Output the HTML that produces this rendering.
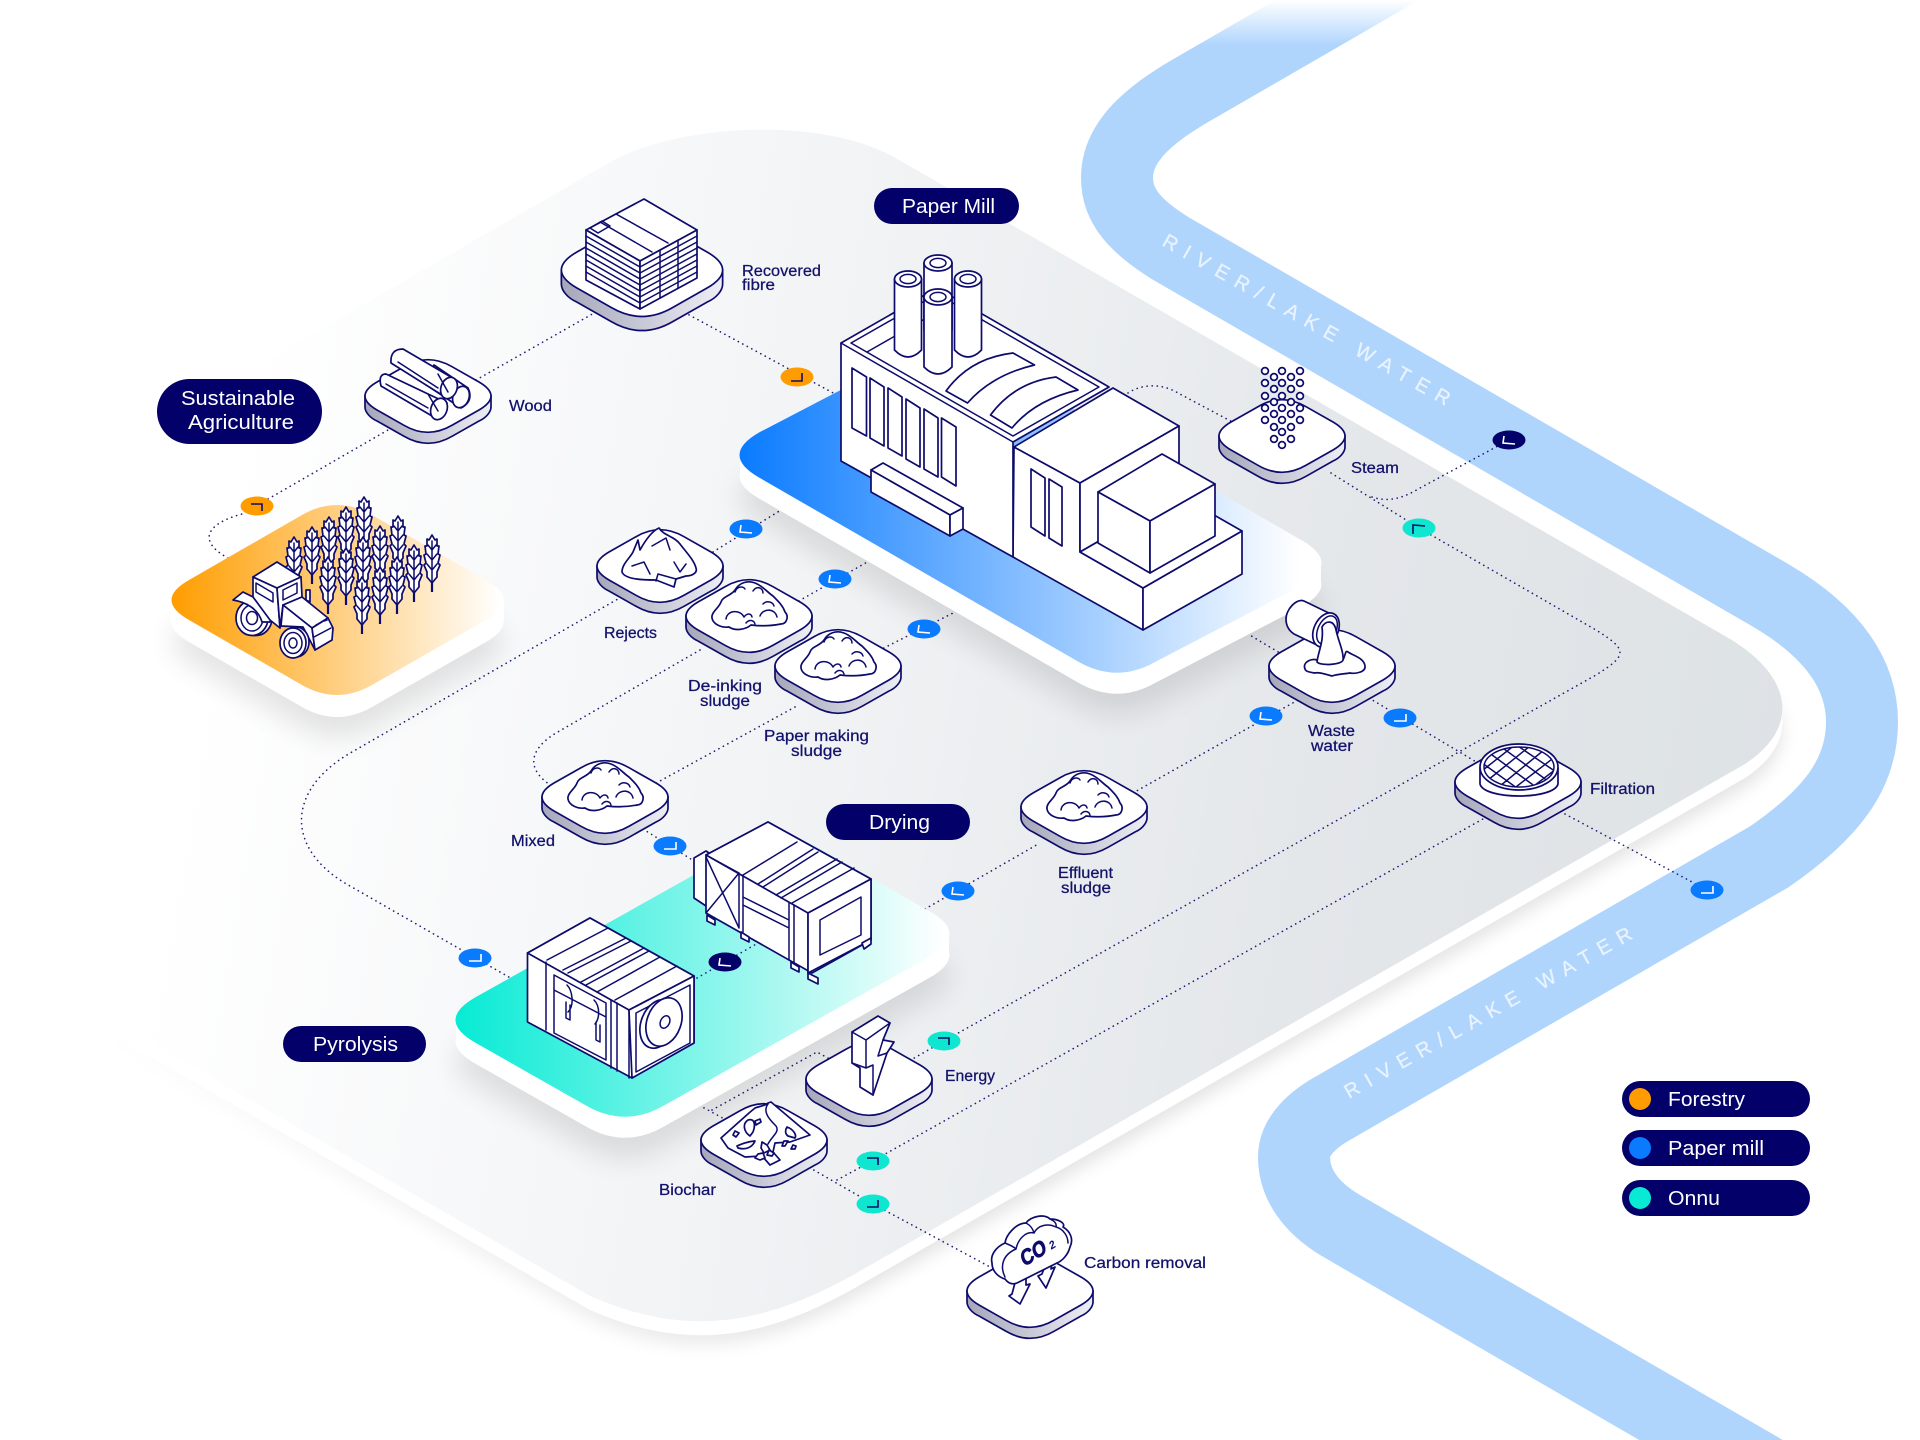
<!DOCTYPE html>
<html lang="en"><head><meta charset="utf-8"><title>Paper mill process diagram</title>
<style>
html,body{margin:0;padding:0;background:#fff}
svg{display:block}
text{font-family:"Liberation Sans",sans-serif}
.l{font-size:15.5px;fill:#13126b;stroke:#13126b;stroke-width:.25}
.p{font-size:20px;fill:#fff}
.r{font-size:20px;fill:#e9f3ff;stroke:#e9f3ff;stroke-width:.3}
.d{fill:none;stroke:#1c1a72;stroke-width:1.6;stroke-linecap:round;stroke-dasharray:.1 5}
.s{fill:#fff;stroke:#0d0b6b;stroke-width:1.7;stroke-linejoin:round;stroke-linecap:round}
.n{fill:none;stroke:#0d0b6b;stroke-width:1.5;stroke-linejoin:round;stroke-linecap:round}
.w{fill:none;stroke:#fff;stroke-width:1.6}
.k{fill:none;stroke:#0d0b6b;stroke-width:1.6}
</style></head><body>
<svg xmlns="http://www.w3.org/2000/svg" width="1920" height="1440" viewBox="0 0 1920 1440">
<defs>
<linearGradient id="rv" gradientUnits="userSpaceOnUse" x1="0" y1="0" x2="0" y2="45"><stop offset="0" stop-color="#b0d5fd" stop-opacity="0"/><stop offset="1" stop-color="#b0d5fd"/></linearGradient>
<linearGradient id="pl" gradientUnits="userSpaceOnUse" x1="190" y1="720" x2="1766" y2="992"><stop offset="0" stop-color="#fff"/><stop offset=".4" stop-color="#f0f2f4"/><stop offset=".7" stop-color="#e4e7ea"/><stop offset="1" stop-color="#dde2e5"/></linearGradient>
<linearGradient id="sh" gradientUnits="userSpaceOnUse" x1="160" y1="800" x2="960" y2="1029"><stop offset="0" stop-color="#000" stop-opacity="0"/><stop offset="1" stop-color="#000" stop-opacity=".1"/></linearGradient>
<linearGradient id="og" gradientUnits="userSpaceOnUse" x1="172" y1="0" x2="500" y2="0"><stop offset="0" stop-color="#ff9d00"/><stop offset="1" stop-color="#ff9d00" stop-opacity="0"/></linearGradient>
<linearGradient id="bg" gradientUnits="userSpaceOnUse" x1="740" y1="0" x2="1300" y2="0"><stop offset="0" stop-color="#0a7bff"/><stop offset="1" stop-color="#0a7bff" stop-opacity="0"/></linearGradient>
<linearGradient id="tg" gradientUnits="userSpaceOnUse" x1="456" y1="0" x2="945" y2="0"><stop offset="0" stop-color="#07ebd5"/><stop offset="1" stop-color="#07ebd5" stop-opacity="0"/></linearGradient>
<linearGradient id="side" x1="0" y1="0" x2="1" y2="0"><stop offset="0" stop-color="#a6a7ba"/><stop offset=".5" stop-color="#c8c9d6"/><stop offset="1" stop-color="#eeeef5"/></linearGradient>
<filter id="b1" x="-20%" y="-20%" width="140%" height="140%"><feGaussianBlur stdDeviation="8"/></filter>
<filter id="b2" x="-30%" y="-30%" width="160%" height="160%"><feGaussianBlur stdDeviation="14"/></filter>
<clipPath id="sieve"><ellipse cx="1" cy="-15" rx="35" ry="20"/></clipPath>
<g id="t">
<path d="M-63,0 L-63,11 C-63,16 -58,22 -51,25 L-24,40.3 Q0,54.3 24,40.3 L51,25 C58,22 63,16 63,11 L63,0Z" fill="url(#side)" stroke="#0d0b6b" stroke-width="1.7" vector-effect="non-scaling-stroke"/>
<path d="M-51,-14 L-24,-29.3 Q0,-43.3 24,-29.3 L51,-14 Q75,0 51,14 L24,29.3 Q0,43.3 -24,29.3 L-51,14 Q-75,0 -51,-14Z" fill="#fff" stroke="#0d0b6b" stroke-width="1.7" vector-effect="non-scaling-stroke"/>
</g>
<g id="pile">
<path class="s" d="M-37,2 C-38,-4 -30,-8 -28,-14 C-26,-20 -18,-20 -14,-26 C-10,-33 -2,-36 6,-33 C14,-30 18,-24 24,-20 C30,-14 34,-10 36,-4 C40,0 38,8 32,8 C22,10 10,10 2,9 C-4,14 -14,15 -20,11 C-28,12 -36,8 -37,2Z"/>
<path class="n" d="M-23,3 C-22,-6 -9,-7 -5,1 M-5,1 C-2,-3 2,-3 3,1 M-3,7 C0,3 5,4 6,8 M11,0 C14,-8 26,-8 28,1 M-14,-24 C-12,-30 -6,-30 -4,-27 M4,-25 C8,-31 14,-28 14,-23 M14,-12 C18,-16 24,-14 25,-10"/>
</g>
<g id="wheat">
<path d="M0,46 L0,57" fill="none" stroke="#0d0b6b" stroke-width="2.2"/>
<path class="s" d="M0,0 L3,5 L5,4 L5,11 L7,11 L6,19 L8,20 L6,28 L8,30 L5,37 L5,42 L0,48 L-5,42 L-5,37 L-8,30 L-6,28 L-8,20 L-6,19 L-7,11 L-5,11 L-5,4 L-3,5Z"/>
<path class="n" d="M0,6 L0,46 M-4,10 L0,15 L4,10 M-5,19 L0,25 L5,19 M-5,29 L0,35 L5,29"/>
</g>
<ellipse id="bd" rx="16.5" ry="9.5"/>
</defs>

<!-- river -->
<path d="M1420,-42 L1190,91 C1135,123 1117,150 1117,178 C1117,206 1135,226 1170,248 L1770,595 C1835,633 1862,676 1862,722 C1862,775 1830,815 1769,857 L1335,1107 C1315,1118 1294,1135 1294,1157 C1294,1185 1312,1208 1340,1225 L1780,1480" fill="none" stroke="url(#rv)" stroke-width="72"/>
<text class="r" transform="translate(1161,245) rotate(29.5)" textLength="327" lengthAdjust="spacing">RIVER/LAKE WATER</text>
<text class="r" transform="translate(1349,1099) rotate(-29.5)" textLength="327" lengthAdjust="spacing">RIVER/LAKE WATER</text>

<!-- big ground plate -->
<path transform="translate(0,24)" d="M612,161 C680,124 820,116 894,157 L1725,636 C1795,676 1800,728 1745,764 L860,1271 C770,1323 690,1340 590,1296 L0,956 L0,514Z" fill="url(#sh)" filter="url(#b1)"/>
<path transform="translate(0,14)" d="M612,161 C680,124 820,116 894,157 L1725,636 C1795,676 1800,728 1745,764 L860,1271 C770,1323 690,1340 590,1296 L0,956 L0,514Z" fill="#fff"/>
<path transform="translate(0,7)" d="M612,161 C680,124 820,116 894,157 L1725,636 C1795,676 1800,728 1745,764 L860,1271 C770,1323 690,1340 590,1296 L0,956 L0,514Z" fill="#fff"/>
<path d="M612,161 C680,124 820,116 894,157 L1725,636 C1795,676 1800,728 1745,764 L860,1271 C770,1323 690,1340 590,1296 L0,956 L0,514Z" fill="url(#pl)"/>

<!-- connectors -->
<path class="d" d="M228,558 C200,543 202,525 242,514 L388,430"/>
<path class="d" d="M476,380 L610,304"/>
<path class="d" d="M680,310 L837,395"/>
<path class="d" d="M700,560 L781,510"/>
<path class="d" d="M630,592 L352,752 C285,790 285,850 350,886 L514,980"/>
<path class="d" d="M790,606 L869,561"/>
<path class="d" d="M700,650 L556,733 C525,752 525,775 565,793"/>
<path class="d" d="M870,655 L961,609"/>
<path class="d" d="M795,707 L649,787"/>
<path class="d" d="M643,829 L694,861"/>
<path class="d" d="M925,909 L1040,843"/>
<path class="d" d="M1133,793 L1298,700"/>
<path class="d" d="M1243,631 L1300,665"/>
<path class="d" d="M1369,698 L1488,769"/>
<path class="d" d="M1565,814 L1707,890"/>
<path class="d" d="M1128,393 C1145,382 1165,385 1178,393 L1240,426"/>
<path class="d" d="M1331,473 L1419,528 L1596,630 C1628,650 1628,655 1596,675 L944,1041 L902,1065"/>
<path class="d" d="M1372,497 C1390,503 1405,497 1420,488 L1509,440"/>
<path class="d" d="M712,1110 L817,1052 L835,1062"/>
<path class="d" d="M695,1103 L730,1122"/>
<path class="d" d="M837,1180 L887,1153 L1490,815"/>
<path class="d" d="M805,1165 L873,1204 L992,1268"/>

<!-- orange plate -->
<path transform="translate(0,42)" d="M189,580 L302,515 Q337,495 372,515 L486,580 Q521,600 486,620 L372,685 Q337,705 302,685 L189,620 Q154,600 189,580Z" fill="#000" opacity=".1" filter="url(#b2)"/>
<path transform="translate(0,22)" d="M189,580 L302,515 Q337,495 372,515 L486,580 Q521,600 486,620 L372,685 Q337,705 302,685 L189,620 Q154,600 189,580Z" fill="#fff"/>
<polygon points="171,600 171,622 504,622 504,600" fill="#fff"/>
<path d="M189,580 L302,515 Q337,495 372,515 L486,580 Q521,600 486,620 L372,685 Q337,705 302,685 L189,620 Q154,600 189,580Z" fill="#fff"/>
<path d="M189,580 L302,515 Q337,495 372,515 L486,580 Q521,600 486,620 L372,685 Q337,705 302,685 L189,620 Q154,600 189,580Z" fill="url(#og)"/>

<!-- wheat -->
<use href="#wheat" x="294" y="537"/><use href="#wheat" x="312" y="527"/><use href="#wheat" x="329" y="517"/><use href="#wheat" x="346" y="507"/><use href="#wheat" x="364" y="497"/><use href="#wheat" x="380" y="526"/><use href="#wheat" x="398" y="516"/><use href="#wheat" x="414" y="545"/><use href="#wheat" x="432" y="535"/><use href="#wheat" x="363" y="537"/><use href="#wheat" x="328" y="557"/><use href="#wheat" x="346" y="548"/><use href="#wheat" x="380" y="567"/><use href="#wheat" x="397" y="557"/><use href="#wheat" x="362" y="577"/>

<!-- tractor -->
<g>
<ellipse class="s" cx="256" cy="618" rx="16" ry="17.5"/>
<ellipse class="s" cx="252" cy="618" rx="16" ry="17.5"/><ellipse class="n" cx="252" cy="618" rx="11" ry="13"/><ellipse class="n" cx="252" cy="618" rx="5.5" ry="6.5"/>
<path class="s" d="M233,600 L243,592 L253,597 L272,613 L270,622 L262,622 C258,608 245,602 233,600Z"/>
<path class="s" d="M253,577 L277,588 L280,628 L270,620 L253,597Z"/>
<path class="s" d="M253,577 L277,562 L301,577 L277,588Z"/>
<path class="s" d="M277,588 L301,577 L302,597 L283,605 L280,628Z"/>
<path class="n" d="M256,583 L273,593 L273,602 L256,592Z M283,590 L297,583 L297,593 L283,600Z"/>
<path class="s" d="M306,590 L306,600 L310,602 L310,590Z"/>
<path class="s" d="M283,605 L302,597 L328,618 L312,628Z"/>
<path class="s" d="M283,605 L312,628 L315,650 L303,627 L281,626Z"/>
<path class="s" d="M312,628 L328,618 L333,628 L332,640 L315,650Z"/>
<path class="n" d="M314,637 L331,628 M316,625 L320,623 M324,621 L327,620"/>
<ellipse class="s" cx="296" cy="642" rx="13" ry="15"/>
<ellipse class="s" cx="293" cy="643" rx="13" ry="15"/><ellipse class="n" cx="293" cy="643" rx="9" ry="10.5"/><ellipse class="n" cx="293" cy="643" rx="4" ry="5"/>
</g>

<!-- blue plate -->
<path transform="translate(0,42)" d="M759,432.5 L905,356.5 Q944,334 983,356.5 L1302,540.5 Q1341,563 1302,585.5 L1156,661.5 Q1117,684 1078,661.5 L759,477.5 Q720,455 759,432.5Z" fill="#000" opacity=".1" filter="url(#b2)"/>
<path transform="translate(0,21)" d="M759,432.5 L905,356.5 Q944,334 983,356.5 L1302,540.5 Q1341,563 1302,585.5 L1156,661.5 Q1117,684 1078,661.5 L759,477.5 Q720,455 759,432.5Z" fill="#fff"/>
<polygon points="740,455 740,476 1321,584 1321,563" fill="#fff"/>
<path d="M759,432.5 L905,356.5 Q944,334 983,356.5 L1302,540.5 Q1341,563 1302,585.5 L1156,661.5 Q1117,684 1078,661.5 L759,477.5 Q720,455 759,432.5Z" fill="#fff"/>
<path d="M759,432.5 L905,356.5 Q944,334 983,356.5 L1302,540.5 Q1341,563 1302,585.5 L1156,661.5 Q1117,684 1078,661.5 L759,477.5 Q720,455 759,432.5Z" fill="url(#bg)"/>

<!-- factory -->
<g>
<path class="s" d="M1014,447 L1080,483 L1080,552 L1143,588 L1143,630 L1013,557Z"/>
<path class="s" d="M1014,447 L1113,388 L1179,426 L1080,483Z"/>
<path class="s" d="M1080,483 L1179,426 L1179,495 L1080,552Z"/>
<path class="s" d="M1031,469 L1045,478 L1045,536 L1031,527Z M1049,479 L1062,487 L1062,546 L1049,538Z"/>
<path class="s" d="M1143,588 L1242,531 L1242,574 L1143,630Z"/>
<path class="s" d="M1080,552 L1143,588 L1242,531 L1179,495Z"/>
<path class="s" d="M1098,492 L1162,454 L1215,484 L1150,521Z"/>
<path class="s" d="M1098,492 L1150,521 L1150,573 L1098,543Z"/>
<path class="s" d="M1150,521 L1215,484 L1215,536 L1150,573Z"/>
<path class="s" d="M841,343 L937,288 L1109,387 L1013,442 L1013,557 L841,461Z"/>
<path class="n" d="M841,343 L1013,442"/>
<path class="n" d="M851,343 L937,294 L1099,387 L1013,436Z"/>
<path class="n" d="M867,352 L937,312"/>
<path class="s" d="M852,368 L866.5,377 L866.5,436 L852,428Z M870,378 L884,387 L884,446 L870,438Z M888,388 L902,397 L902,456 L888,448Z M906,399 L920,408 L920,467 L906,459Z M924,409 L938,418 L938,477 L924,469Z M941.5,418 L956,427 L956,486 L941.5,477Z"/>
<path class="s" d="M871,470 L883,463 L963,508 L950,515Z"/>
<path class="s" d="M871,470 L950,515 L950,536 L871,492Z"/>
<path class="s" d="M950,515 L963,508 L963,529 L950,536Z"/>
<path class="s" d="M946,391 L967.5,403 Q992,375 1034.5,365 L1013,353 Q970,358 946,391Z"/>
<path class="s" d="M990.5,415 L1012,428 Q1035,400 1078,390 L1056,377 Q1015,382 990.5,415Z"/>
<path class="s" d="M924,263 L924,330 L952,330 L952,263Z"/><ellipse class="s" cx="938" cy="263" rx="14" ry="8"/><ellipse class="n" cx="938" cy="263" rx="8" ry="4.6"/>
<path class="s" d="M894.5,279 L894.5,350 Q908,364 921.5,350 L921.5,279Z"/><ellipse class="s" cx="908" cy="279" rx="13.5" ry="8"/><ellipse class="n" cx="908" cy="279" rx="8" ry="4.6"/>
<path class="s" d="M954.5,279 L954.5,350 Q968,364 981.5,350 L981.5,279Z"/><ellipse class="s" cx="968" cy="279" rx="13.5" ry="8"/><ellipse class="n" cx="968" cy="279" rx="8" ry="4.6"/>
<path class="s" d="M924,297 L924,367 Q938,381 952,367 L952,297Z"/><ellipse class="s" cx="938" cy="297" rx="14" ry="8"/><ellipse class="n" cx="938" cy="297" rx="8" ry="4.6"/>
</g>

<!-- teal plate -->
<path transform="translate(0,42)" d="M475,997.5 L741,848.5 Q780,826 819,848.5 L930,911.5 Q969,934 930,956.5 L664,1105.5 Q625,1128 586,1105.5 L475,1042.5 Q436,1020 475,997.5Z" fill="#000" opacity=".1" filter="url(#b2)"/>
<path transform="translate(0,21)" d="M475,997.5 L741,848.5 Q780,826 819,848.5 L930,911.5 Q969,934 930,956.5 L664,1105.5 Q625,1128 586,1105.5 L475,1042.5 Q436,1020 475,997.5Z" fill="#fff"/>
<polygon points="456,1020 456,1041 949,955 949,934" fill="#fff"/>
<path d="M475,997.5 L741,848.5 Q780,826 819,848.5 L930,911.5 Q969,934 930,956.5 L664,1105.5 Q625,1128 586,1105.5 L475,1042.5 Q436,1020 475,997.5Z" fill="#fff"/>
<path d="M475,997.5 L741,848.5 Q780,826 819,848.5 L930,911.5 Q969,934 930,956.5 L664,1105.5 Q625,1128 586,1105.5 L475,1042.5 Q436,1020 475,997.5Z" fill="url(#tg)"/>

<path class="d" d="M697,978 L758,943"/>

<!-- dryer -->
<g>
<path class="s" d="M694,858 L706,851 L739,873 L739,928 L694,898Z"/>
<path class="s" d="M706,855 L768,822 L871,879 L871,940 L812,973 L706,913Z"/>
<path class="s" d="M706,855 L768,822 L871,879 L808,913Z"/>
<path class="n" d="M706,857 L739,928 M739,873 L706,913 M706,855 L739,873 L739,928 M743,875 L743,932 M789,903 L789,960 M794,905 L794,962 M808,913 L808,973 M743,897 L789,920 M743,905 L789,928"/>
<path class="n" d="M743,875 L797,842 M758,884 L813,849 M763,887 L818,852 M776,895 L837,859 M781,898 L842,862 M792,903 L854,868"/>
<path class="s" d="M808,913 L871,879 L871,940 L808,973Z"/>
<path class="n" d="M820,920 L861,897 L861,935 L820,955Z"/>
<path class="s" d="M707,915 L715,920 L715,925 L707,921Z M741,932 L749,937 L749,942 L741,938Z M791,962 L799,967 L799,972 L791,968Z M808,973 L818,978 L818,984 L808,979Z M862,943 L871,938 L871,944 L864,949Z"/>
</g>

<!-- pyrolysis -->
<g>
<path class="s" d="M527.5,953 L590,918 L694,976 L694,1043 L632,1078 L527.5,1022Z"/>
<path class="s" d="M527.5,953 L590,918 L694,976 L629,1010Z"/>
<path class="n" d="M546,962 L546,1030 M611,1000 L611,1068 M617,1003 L617,1071 M629,1010 L629,1078 M547,960 L608,928 M563,970 L626,938 M568,973 L631,941 M581,982 L644,948 M586,985 L649,951 M597,992 L660,957 M615,1000 L677,966"/>
<path class="n" d="M554,975 L606,1003 L606,1060 L554,1033Z M554,990 L606,1017 M567,985 C572,990 575,1005 568,1012 M594,1000 C600,1006 600,1018 595,1024 M566,1002 L566,1018 L570,1020 L570,1005 M596,1022 L596,1040 L600,1042 L600,1025"/>
<path class="s" d="M629,1010 L694,976 L694,1043 L632,1078Z"/>
<path class="n" d="M636,1013 L690,985 L690,1043 L636,1072Z"/>
<ellipse class="s" cx="658" cy="1024" rx="17" ry="25" transform="rotate(20 658 1024)"/>
<ellipse class="s" cx="664" cy="1022" rx="17" ry="25" transform="rotate(20 664 1022)"/>
<ellipse class="n" cx="665" cy="1022" rx="4.5" ry="6.5" transform="rotate(25 665 1022)"/>
</g>

<!-- tiles -->
<use href="#t" transform="translate(642,270) scale(1.28)"/>
<use href="#t" x="428" y="396"/>
<use href="#t" x="660" y="566"/>
<use href="#t" x="749" y="616"/>
<use href="#t" x="838" y="666"/>
<use href="#t" x="605" y="797"/>
<use href="#t" x="1084" y="807"/>
<use href="#t" x="1332" y="666"/>
<use href="#t" x="1518" y="782"/>
<use href="#t" x="1282" y="436"/>
<use href="#t" x="869" y="1079"/>
<use href="#t" x="764" y="1140"/>
<use href="#t" x="1030" y="1291"/>

<!-- bale stack -->
<g>
<path class="s" d="M586,230 L644,199 L697,230 L640,261Z"/>
<path class="s" d="M586,230 L640,261 L640,309 L586,280Z"/>
<path class="s" d="M640,261 L697,230 L697,278 L640,309Z"/>
<path class="n" d="M600,222 L652,252 M616,214 L668,243 M590,228 L602,221 L610,226 L598,233Z"/>
<path class="n" d="M586,236 L640,267 M586,242 L640,273 M586,248 L640,279 M586,254 L640,285 M586,260 L640,291 M586,266 L640,297 M586,272 L640,303"/>
<path class="n" d="M640,267 L697,236 M640,273 L697,242 M640,279 L697,248 M640,285 L697,254 M640,291 L697,260 M640,297 L697,266 M640,303 L697,272 M678,240 L678,288 M660,250 L660,298"/>
</g>

<!-- logs -->
<g transform="translate(428,396)">
<path class="s" d="M6,-31 L40,-8 Q46,5 33,12 L-3,-12Z"/><ellipse class="s" cx="33" cy="1" rx="8" ry="11" transform="rotate(20 33 1)"/>
<path class="s" d="M-25,-47 L28,-16 L14,-1 L-37,-33 Q-38,-47 -25,-47Z"/><ellipse class="s" cx="21" cy="-8" rx="8" ry="11" transform="rotate(20 21 -8)"/>
<path class="n" d="M-30,-34 L10,-8 M10,-22 L20,-4"/>
<path class="s" d="M-42,-22 L19,7 L4,20 L-47,-10 Q-50,-22 -42,-22Z"/><ellipse class="s" cx="11" cy="13" rx="8" ry="11" transform="rotate(20 11 13)"/>
<path class="n" d="M-42,-12 L0,12 M0,-2 L10,15"/>
</g>

<!-- piles -->
<g transform="translate(660,566)">
<path class="s" d="M-38,6 C-38,-2 -30,-8 -27,-14 L-22,-26 L-20,-16 C-15,-25 -8,-35 -1,-38 C4,-30 14,-30 20,-22 C26,-14 34,-6 36,2 C38,8 30,10 26,10 L16,13 L14,21 L-4,14 C-14,14 -35,14 -38,6Z"/>
<path class="n" d="M-8,-20 L6,-28 L10,-16 M-28,0 L-16,-4 L-10,8 M14,-4 L20,6 L26,-2 M-4,15 L-2,8 L16,13"/>
</g>
<use href="#pile" x="749" y="616"/>
<use href="#pile" x="838" y="666"/>
<use href="#pile" x="605" y="797"/>
<use href="#pile" x="1084" y="807"/>

<!-- steam dots -->
<g>
<circle class="s" cx="1265" cy="371" r="3.4"/><circle class="s" cx="1265" cy="383" r="3.4"/><circle class="s" cx="1265" cy="396" r="3.4"/><circle class="s" cx="1265" cy="408" r="3.4"/><circle class="s" cx="1265" cy="420" r="3.4"/>
<circle class="s" cx="1274" cy="377" r="3.4"/><circle class="s" cx="1274" cy="389" r="3.4"/><circle class="s" cx="1274" cy="402" r="3.4"/><circle class="s" cx="1274" cy="414" r="3.4"/><circle class="s" cx="1274" cy="427" r="3.4"/><circle class="s" cx="1274" cy="439" r="3.4"/>
<circle class="s" cx="1282" cy="371" r="3.4"/><circle class="s" cx="1282" cy="383" r="3.4"/><circle class="s" cx="1282" cy="396" r="3.4"/><circle class="s" cx="1282" cy="408" r="3.4"/><circle class="s" cx="1282" cy="420" r="3.4"/><circle class="s" cx="1282" cy="432" r="3.4"/><circle class="s" cx="1282" cy="445" r="3.4"/>
<circle class="s" cx="1291" cy="377" r="3.4"/><circle class="s" cx="1291" cy="389" r="3.4"/><circle class="s" cx="1291" cy="402" r="3.4"/><circle class="s" cx="1291" cy="414" r="3.4"/><circle class="s" cx="1291" cy="427" r="3.4"/><circle class="s" cx="1291" cy="439" r="3.4"/>
<circle class="s" cx="1300" cy="371" r="3.4"/><circle class="s" cx="1300" cy="383" r="3.4"/><circle class="s" cx="1300" cy="396" r="3.4"/><circle class="s" cx="1300" cy="408" r="3.4"/><circle class="s" cx="1300" cy="420" r="3.4"/>
</g>

<!-- waste water pipe -->
<g transform="translate(1332,666)">
<path class="s" d="M-27,3 C-30,-4 -20,-8 -15,-6 L11,-6 C14,-12 13,-16 16,-14 C22,-10 32,-8 33,0 C34,6 24,8 18,7 C12,8 6,8 0,10 C-8,8 -12,6 -18,7 C-22,6 -26,6 -27,3Z"/>
<path class="s" d="M-46,-47 C-46,-56 -36,-68 -28,-65 L3,-50 L-13,-20 L-38,-32 C-44,-36 -46,-42 -46,-47Z"/>
<ellipse class="s" cx="-6" cy="-36" rx="12" ry="18" transform="rotate(25 -6 -36)"/>
<ellipse class="n" cx="-5" cy="-36" rx="9" ry="15" transform="rotate(25 -5 -36)"/>
<path class="s" d="M-10,-39 C-6,-46 2,-46 4,-36 C6,-26 12,-14 11,-6 C10,-1 -12,0 -15,-4 C-14,-14 -8,-24 -10,-39Z"/>
</g>

<!-- sieve -->
<g transform="translate(1518,782)">
<path class="s" d="M-38,-14 L-38,2 C-34,18 36,18 40,2 L40,-14Z"/>
<ellipse class="s" cx="1" cy="-15" rx="39" ry="23"/>
<ellipse class="n" cx="1" cy="-15" rx="35" ry="20"/>
<g clip-path="url(#sieve)"><path class="n" d="M-40,-8 L-2,-38 M-30,-2 L12,-36 M-18,4 L26,-32 M-6,8 L38,-26 M8,10 L42,-16 M-40,-22 L10,14 M-30,-30 L22,8 M-18,-36 L34,2 M-6,-40 L44,-6 M8,-42 L50,-14"/></g>
</g>

<!-- bolt -->
<path class="s" d="M852,1032 L878,1016 L890,1023 L883,1040 L894,1042 L887,1053 L873,1095 L860,1087 L860,1068 L852,1063Z"/>
<path class="n" d="M852,1032 L866,1040 L890,1023 M866,1040 L866,1068 L852,1063 M866,1068 L873,1065 L873,1095 M883,1040 L878,1056 L887,1053"/>

<!-- biochar -->
<g>
<path class="s" d="M721,1138 L749,1113 L755,1108 C760,1106 765,1106 768,1103 L771,1102 C778,1108 790,1118 797,1124 L810,1135 L790,1142 L775,1143 L773,1152 L780,1160 L770,1165 L762,1156 L745,1157 L728,1148Z"/>
<path class="n" d="M768,1104 C762,1112 770,1120 776,1126 C780,1132 772,1136 768,1144"/>
<path class="s" d="M748,1120 C754,1118 756,1124 753,1132 L750,1136 C744,1132 742,1124 748,1120Z M755,1121 L760,1119 L761,1122 L756,1125Z M735,1131 L739,1133 L736,1137 L733,1135Z M787,1127 C793,1129 797,1135 795,1138 L788,1136 C785,1134 785,1130 787,1127Z M737,1146 C743,1143 752,1141 755,1141 C752,1148 745,1150 738,1148Z M762,1142 L767,1145 L770,1150 L764,1153 L761,1148Z M758,1154 L763,1153 L765,1158 L760,1160 L755,1158Z M769,1150 L774,1153 L772,1156 L767,1155Z M784,1141 L788,1141 L785,1146 L782,1146Z M793,1145 L796,1146 L795,1149 L791,1149Z"/>
</g>

<!-- cloud -->
<g transform="translate(1030,1291)">
<path class="s" d="M-14,-12 L-18,3 L-21,5 L-10,13 L0,-7 L-4,-6 L-4,-12Z"/>
<path class="s" d="M16,-28 L12,-17 L8,-15 L16,-3 L25,-24 L21,-22 L22,-28Z"/>
<path class="s" d="M-38,-28 C-40,-36 -34,-44 -25,-48 C-24,-56 -14,-68 -4,-68 C0,-74 14,-78 20,-72 C28,-72 36,-68 33,-64 C40,-60 44,-52 40,-44 C38,-36 32,-30 27,-28 L-13,-8 C-18,-6 -22,-8 -25,-12 C-32,-14 -38,-20 -38,-28Z"/>
<path class="n" d="M-25,-14 C-30,-24 -28,-36 -14,-42 C-12,-52 -4,-60 4,-58 C8,-66 18,-68 26,-64 C34,-62 38,-54 38,-48 M-25,-48 C-20,-46 -16,-44 -14,-42 M-4,-68 C0,-66 3,-62 4,-58 M20,-72 C24,-70 27,-68 26,-64"/>
<text transform="translate(-6,-24) rotate(-32) skewX(-12)" font-size="21" font-weight="bold" fill="#0d0b6b" stroke="#0d0b6b" stroke-width=".8" textLength="28" lengthAdjust="spacingAndGlyphs">CO</text>
<text transform="translate(21,-41) rotate(-32) skewX(-12)" font-size="11" font-weight="bold" fill="#0d0b6b">2</text>
</g>

<!-- badges -->
<g fill="#ff9d00"><use href="#bd" x="797" y="377"/><use href="#bd" x="257" y="506"/></g>
<g fill="#0a7bff"><use href="#bd" x="746" y="529"/><use href="#bd" x="835" y="579"/><use href="#bd" x="924" y="629"/><use href="#bd" x="1266" y="716"/><use href="#bd" x="1400" y="718"/><use href="#bd" x="670" y="846"/><use href="#bd" x="958" y="891"/><use href="#bd" x="475" y="958"/><use href="#bd" x="1707" y="890"/></g>
<g fill="#04006a"><use href="#bd" x="1509" y="440"/><use href="#bd" x="725" y="962"/></g>
<g fill="#0ee6cf"><use href="#bd" x="1419" y="528"/><use href="#bd" x="944" y="1041"/><use href="#bd" x="873" y="1161"/><use href="#bd" x="873" y="1204"/></g>
<path class="k" d="M791,381 L802,381 L802,373 M251,504 L262,504 L262,511 M1413,534 L1413,525 L1425,526"/>
<path class="k" d="M938,1038 L949,1038 L949,1045 M867,1158 L878,1158 L878,1165 M867,1207 L878,1207 L878,1200"/>
<path class="w" d="M741,525 L740,532 L752,533 M830,575 L829,582 L841,583 M919,625 L918,632 L930,633 M1261,712 L1260,719 L1272,720 M953,887 L952,894 L964,895"/>
<path class="w" d="M1394,721 L1406,721 L1406,714 M664,849 L676,849 L676,842 M469,961 L481,961 L481,954 M1701,893 L1713,893 L1713,886"/>
<path class="w" d="M1504,436 L1503,443 L1515,444 M720,958 L719,965 L731,966"/>

<!-- pills -->
<rect x="157" y="379" width="165" height="65" rx="32.5" fill="#04006a"/>
<text class="p" x="181" y="405" textLength="114" lengthAdjust="spacingAndGlyphs">Sustainable</text>
<text class="p" x="188" y="429" textLength="106" lengthAdjust="spacingAndGlyphs">Agriculture</text>
<rect x="874" y="188" width="145" height="36" rx="18" fill="#04006a"/>
<text class="p" x="902" y="213" textLength="93" lengthAdjust="spacingAndGlyphs">Paper Mill</text>
<rect x="826" y="804" width="144" height="36" rx="18" fill="#04006a"/>
<text class="p" x="869" y="829" textLength="61" lengthAdjust="spacingAndGlyphs">Drying</text>
<rect x="283" y="1026" width="143" height="36" rx="18" fill="#04006a"/>
<text class="p" x="313" y="1051" textLength="85" lengthAdjust="spacingAndGlyphs">Pyrolysis</text>

<!-- legend -->
<rect x="1622" y="1081" width="188" height="36" rx="18" fill="#04006a"/>
<circle cx="1640" cy="1099" r="11" fill="#ff9d00"/>
<text class="p" x="1668" y="1106" textLength="77" lengthAdjust="spacingAndGlyphs">Forestry</text>
<rect x="1622" y="1130" width="188" height="36" rx="18" fill="#04006a"/>
<circle cx="1640" cy="1148" r="11" fill="#0a7bff"/>
<text class="p" x="1668" y="1155" textLength="96" lengthAdjust="spacingAndGlyphs">Paper mill</text>
<rect x="1622" y="1180" width="188" height="36" rx="18" fill="#04006a"/>
<circle cx="1640" cy="1198" r="11" fill="#07ebd5"/>
<text class="p" x="1668" y="1205" textLength="52" lengthAdjust="spacingAndGlyphs">Onnu</text>

<!-- labels -->
<text class="l" x="742" y="276" textLength="79" lengthAdjust="spacingAndGlyphs">Recovered</text>
<text class="l" x="742" y="290" textLength="33" lengthAdjust="spacingAndGlyphs">fibre</text>
<text class="l" x="509" y="411" textLength="43" lengthAdjust="spacingAndGlyphs">Wood</text>
<text class="l" x="604" y="638" textLength="53" lengthAdjust="spacingAndGlyphs">Rejects</text>
<text class="l" x="688" y="691" textLength="74" lengthAdjust="spacingAndGlyphs">De-inking</text>
<text class="l" x="700" y="706" textLength="50" lengthAdjust="spacingAndGlyphs">sludge</text>
<text class="l" x="764" y="741" textLength="105" lengthAdjust="spacingAndGlyphs">Paper making</text>
<text class="l" x="791" y="756" textLength="51" lengthAdjust="spacingAndGlyphs">sludge</text>
<text class="l" x="511" y="846" textLength="44" lengthAdjust="spacingAndGlyphs">Mixed</text>
<text class="l" x="1351" y="473" textLength="48" lengthAdjust="spacingAndGlyphs">Steam</text>
<text class="l" x="1308" y="736" textLength="47" lengthAdjust="spacingAndGlyphs">Waste</text>
<text class="l" x="1311" y="751" textLength="42" lengthAdjust="spacingAndGlyphs">water</text>
<text class="l" x="1590" y="794" textLength="65" lengthAdjust="spacingAndGlyphs">Filtration</text>
<text class="l" x="1058" y="878" textLength="55" lengthAdjust="spacingAndGlyphs">Effluent</text>
<text class="l" x="1061" y="893" textLength="50" lengthAdjust="spacingAndGlyphs">sludge</text>
<text class="l" x="945" y="1081" textLength="50" lengthAdjust="spacingAndGlyphs">Energy</text>
<text class="l" x="659" y="1195" textLength="57" lengthAdjust="spacingAndGlyphs">Biochar</text>
<text class="l" x="1084" y="1268" textLength="122" lengthAdjust="spacingAndGlyphs">Carbon removal</text>
</svg>
</body></html>
